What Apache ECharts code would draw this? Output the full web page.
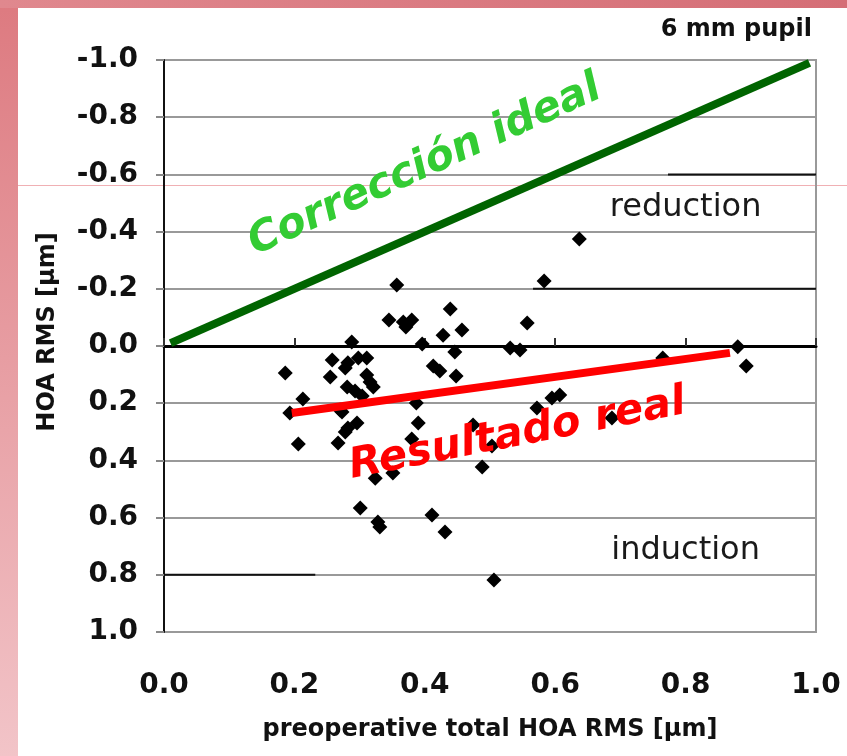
<!DOCTYPE html>
<html>
<head>
<meta charset="utf-8">
<script src="https://cdn.jsdelivr.net/npm/echarts@6/dist/echarts.min.js"></script>
<style>
html,body{margin:0;padding:0;background:#fff;}
#chart{width:847px;height:756px;}
</style>
</head>
<body>
<div id="chart"></div>
<script>
// ---- data ----
var xValues = [0.186,0.213,0.206,0.193,0.357,0.345,0.367,0.380,0.371,0.439,0.457,0.428,0.396,0.446,0.413,0.423,0.448,
  0.288,0.258,0.282,0.298,0.311,0.278,0.255,0.311,0.316,0.321,0.281,0.293,0.270,0.387,0.390,0.380,0.273,0.296,0.282,
  0.278,0.267,0.324,0.351,0.301,0.328,0.331,0.411,0.431,0.506,0.474,0.488,0.503,0.637,0.583,0.557,0.531,0.546,0.765,
  0.880,0.893,0.572,0.595,0.607,0.687,0.304];
var yValues = [0.094,0.185,0.343,0.234,-0.213,-0.091,-0.084,-0.091,-0.066,-0.129,-0.056,-0.038,-0.007,0.021,0.070,0.087,0.105,
  -0.014,0.049,0.059,0.042,0.042,0.077,0.108,0.101,0.126,0.143,0.143,0.157,0.224,0.199,0.269,0.325,0.231,0.269,0.287,
  0.301,0.339,0.462,0.444,0.566,0.615,0.633,0.591,0.650,0.818,0.276,0.423,0.350,-0.374,-0.227,-0.080,0.007,0.014,0.042,
  0.003,0.070,0.217,0.182,0.171,0.252,0.175];
var idealLine = [[0.01,-0.01],[0.99,-0.99]];
var realLine = [[0.196,0.234],[0.868,0.024]];
var xTickLabels = ['0.0','0.2','0.4','0.6','0.8','1.0'];
var yTickLabels = ['-1.0','-0.8','-0.6','-0.4','-0.2','0.0','0.2','0.4','0.6','0.8','1.0'];
var darkGridSegments = [
  [[0.773,-0.6],[1.0,-0.6]],
  [[0.566,-0.2],[1.0,-0.2]],
  [[0.0,0.8],[0.232,0.8]]
];
var annotations = {
  ideal: {text:'Corrección ideal', x:0.40, y:-0.63},
  real: {text:'Resultado real', x:0.542, y:0.31},
  reduction: {text:'reduction', x:0.800, y:-0.485},
  induction: {text:'induction', x:0.800, y:0.715}
};

var points = xValues.map(function(x,i){return [x,yValues[i]];});

var chart = echarts.init(document.getElementById('chart'), null, {renderer:'canvas'});
var fontBold = '"DejaVu Sans", sans-serif';

var segSeries = darkGridSegments.map(function(seg){
  return {type:'line', data:seg, symbol:'none', silent:true, z:1,
    lineStyle:{color:'#111', width:2}, animation:false};
});

var option = {
  backgroundColor:'#ffffff',
  animation:false,
  grid:{left:164, right:31, top:60, bottom:124, show:true, borderColor:'#999', borderWidth:2, backgroundColor:'transparent'},
  xAxis:[{
    type:'value', min:0, max:1, interval:0.2,
    axisLine:{show:false, onZero:false}, axisTick:{show:false}, splitLine:{show:false},
    axisLabel:{margin:40, fontSize:28, fontWeight:'bold', fontFamily:fontBold, color:'#111',
      formatter:function(v){return xTickLabels[Math.round(v/0.2)];}},
    name:'preoperative total HOA RMS [µm]', nameLocation:'middle', nameGap:86,
    nameTextStyle:{fontSize:24, fontWeight:'bold', fontFamily:fontBold, color:'#111'}
  },{
    type:'value', min:0, max:1, interval:0.2, position:'bottom',
    axisLine:{show:true, onZero:true, lineStyle:{color:'#000', width:3}},
    axisTick:{show:true, inside:true, length:8, lineStyle:{color:'#333', width:2}},
    axisLabel:{show:false}, splitLine:{show:false}
  }],
  yAxis:{
    type:'value', min:-1, max:1, interval:0.2, inverse:true,
    axisLine:{show:true, lineStyle:{color:'#111', width:2}},
    axisTick:{show:true, length:8, lineStyle:{color:'#888', width:2}},
    splitLine:{show:true, lineStyle:{color:'#999', width:2}},
    axisLabel:{margin:26, fontSize:28, fontWeight:'bold', fontFamily:fontBold, color:'#111',
      formatter:function(v){return yTickLabels[Math.round((v+1)/0.2)];}},
    name:'HOA RMS [µm]', nameLocation:'middle', nameGap:104,
    nameTextStyle:{fontSize:24, fontWeight:'bold', fontFamily:fontBold, color:'#111', padding:[0,0,0,28]}
  },
  series: segSeries.concat([
    {type:'scatter', data:points, symbol:'diamond', symbolSize:15, z:3,
      itemStyle:{color:'#000', opacity:1}},
    {type:'line', data:idealLine, symbol:'none', z:4,
      lineStyle:{color:'#006400', width:8, cap:'butt'}},
    {type:'line', data:realLine, symbol:'none', z:4,
      lineStyle:{color:'#ff0000', width:8, cap:'butt'}}
  ])
};
chart.setOption(option);

function px(p){return chart.convertToPixel({xAxisIndex:0, yAxisIndex:0}, p);}
var pI = px([annotations.ideal.x, annotations.ideal.y]);
var pR = px([annotations.real.x, annotations.real.y]);
var pRed = px([annotations.reduction.x, annotations.reduction.y]);
var pInd = px([annotations.induction.x, annotations.induction.y]);

chart.setOption({
  graphic:[
    {type:'rect', shape:{x:0, y:0, width:18, height:756}, z:-1, silent:true,
      style:{fill:new echarts.graphic.LinearGradient(0,0,0,1,[{offset:0,color:'#dd7a80'},{offset:1,color:'#f2c4c8'}])}},
    {type:'rect', shape:{x:0, y:0, width:847, height:8}, z:-1, silent:true,
      style:{fill:new echarts.graphic.LinearGradient(0,0,1,0,[{offset:0,color:'#e0888e'},{offset:1,color:'#d56e76'}])}},
    {type:'rect', shape:{x:18, y:185, width:829, height:1}, z:-1, silent:true,
      style:{fill:'#f0b0b4'}},
    {type:'text', x:812, y:30, z:10, silent:true,
      style:{text:'6 mm pupil', font:'bold 24px "DejaVu Sans", sans-serif', fill:'#111', align:'right', verticalAlign:'middle'}},
    {type:'text', x:pRed[0], y:pRed[1], z:10, silent:true,
      style:{text:annotations.reduction.text, font:'32px "DejaVu Sans", sans-serif', fill:'#1a1a1a', align:'center', verticalAlign:'middle'}},
    {type:'text', x:pInd[0], y:pInd[1], z:10, silent:true,
      style:{text:annotations.induction.text, font:'32px "DejaVu Sans", sans-serif', fill:'#1a1a1a', align:'center', verticalAlign:'middle'}},
    {type:'text', x:pI[0], y:pI[1], rotation:24.5*Math.PI/180, z:10, silent:true,
      style:{text:annotations.ideal.text, font:'italic bold 42px "DejaVu Sans", sans-serif', fill:'#33cc33', align:'center', verticalAlign:'middle'}},
    {type:'text', x:pR[0], y:pR[1], rotation:11*Math.PI/180, z:10, silent:true,
      style:{text:annotations.real.text, font:'italic bold 42px "DejaVu Sans", sans-serif', fill:'#ff0000', align:'center', verticalAlign:'middle'}}
  ]
});
</script>
</body>
</html>
